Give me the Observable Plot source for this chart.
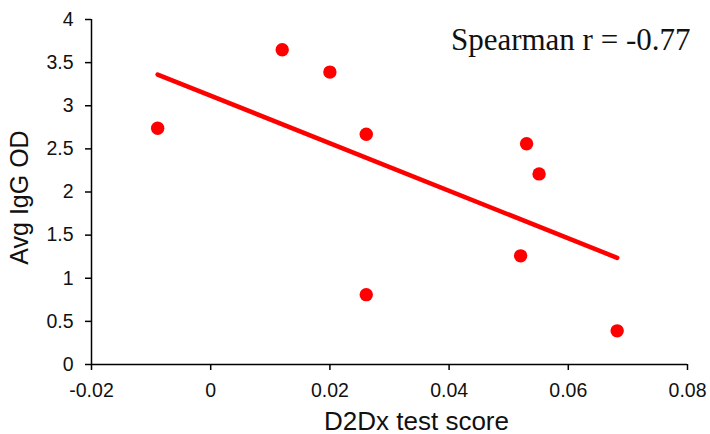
<!DOCTYPE html>
<html>
<head>
<meta charset="utf-8">
<script src="https://cdn.jsdelivr.net/npm/d3@7"></script>
<script src="https://cdn.jsdelivr.net/npm/@observablehq/plot@0.6"></script>
<style>
  html, body { margin: 0; padding: 0; background: #fff; }
</style>
</head>
<body>
<div id="chart"></div>
<script>
const scores = [-0.0089, 0.012, 0.020, 0.0261, 0.0261, 0.053, 0.0551, 0.052, 0.0682];
const iggOD  = [2.74, 3.65, 3.39, 2.67, 0.81, 2.56, 2.21, 1.26, 0.39];
const xTicks = [-0.02, 0, 0.02, 0.04, 0.06, 0.08];
const yTicks = [0, 0.5, 1, 1.5, 2, 2.5, 3, 3.5, 4];
const xTitle = "D2Dx test score";
const yTitle = "Avg IgG OD";
const annotation = "Spearman r = -0.77";

const data = scores.map((x, i) => ({x, y: iggOD[i]}));

const chart = Plot.plot({
  width: 710,
  height: 434,
  marginLeft: 91,
  marginRight: 23,
  marginTop: 19,
  marginBottom: 70,
  style: {fontFamily: "'Liberation Sans', Arial, sans-serif", background: "#fff"},
  x: {domain: [-0.02, 0.08]},
  y: {domain: [0, 4]},
  marks: [
    Plot.axisX({ticks: xTicks, tickFormat: d => String(d), tickSize: 6, tickPadding: 13,
      fontSize: 19.5, stroke: "#000", strokeWidth: 1.5, fill: "#111", label: null}),
    Plot.axisY({ticks: yTicks, tickFormat: d => String(d), tickSize: 6, tickPadding: 12,
      fontSize: 19.5, stroke: "#000", strokeWidth: 1.5, fill: "#111", label: null}),
    Plot.ruleX([xTicks[0]], {stroke: "#000", strokeWidth: 1.5}),
    Plot.ruleY([yTicks[0]], {stroke: "#000", strokeWidth: 1.5}),
    Plot.linearRegressionY(data, {x: "x", y: "y", ci: 0, stroke: "#ff0000", strokeWidth: 4.5, strokeLinecap: "round"}),
    Plot.dot(data, {x: "x", y: "y", r: 6.7, fill: "#ff0000", stroke: "none"}),
    Plot.text([xTitle], {frameAnchor: "bottom", text: d => d, dx: 27, dy: 65,
      lineAnchor: "bottom", textAnchor: "middle", fontSize: 26, fill: "#111"}),
    Plot.text([yTitle], {frameAnchor: "left", text: d => d, rotate: -90, dx: -64, dy: 5.5,
      lineAnchor: "bottom", textAnchor: "middle", fontSize: 25, fill: "#111"}),
    Plot.text([annotation], {frameAnchor: "top-right", text: d => d, dx: 3, dy: 30,
      lineAnchor: "bottom", textAnchor: "end", fontSize: 31,
      fontFamily: "'Liberation Serif', 'Times New Roman', serif", fill: "#111"})
  ]
});
document.getElementById("chart").appendChild(chart);
</script>
</body>
</html>
